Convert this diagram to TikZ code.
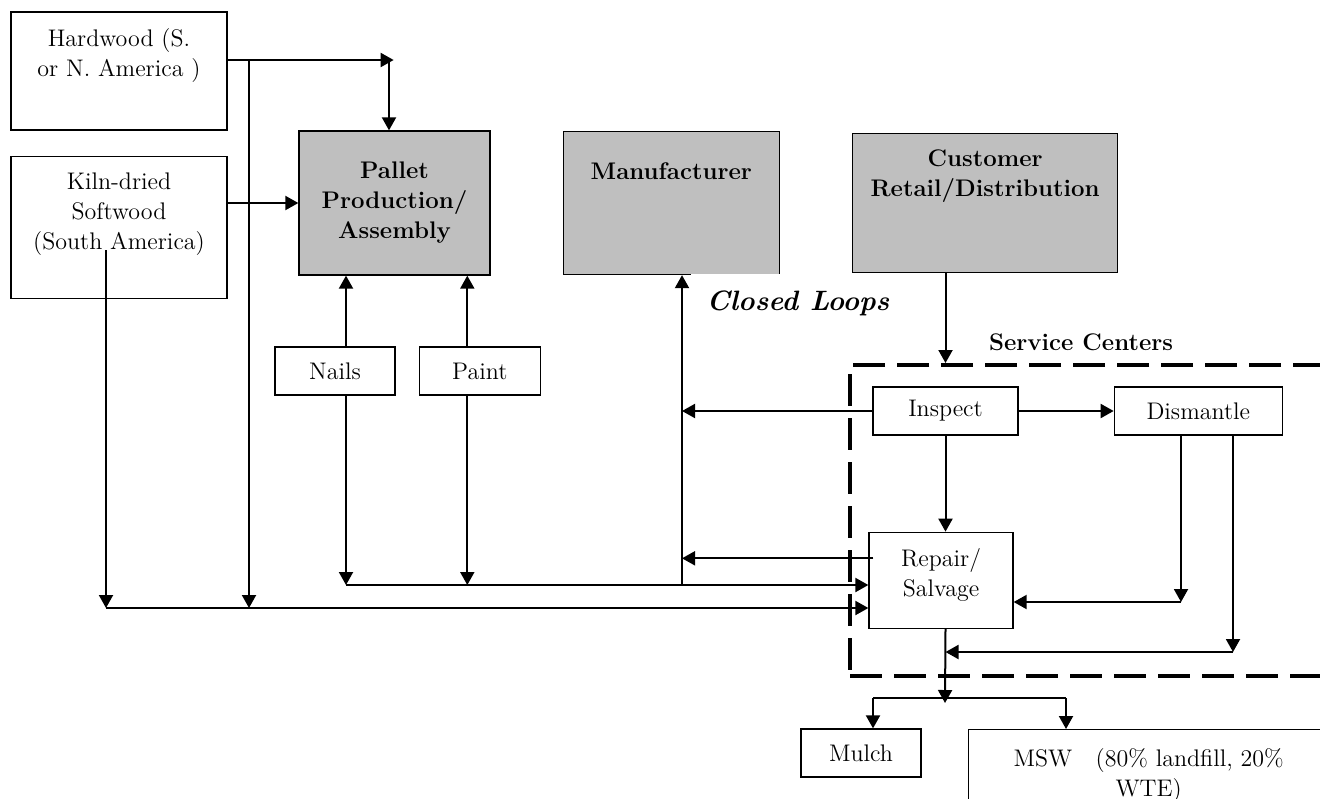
\documentclass[tikz,border=0pt]{standalone}
\usepackage{tikz}
\usetikzlibrary{positioning, arrows.meta}
\newcommand{\diagfont}{\fontsize{12}{15}\selectfont}

\begin{document}
\begin{tikzpicture}[x=0.5pt, y=-0.5pt, font=\diagfont, line width=1pt,
  >={Triangle[length=6.5pt, width=7pt]},
  box/.style = {draw, line width=0.65pt, inner sep=0pt},
  greybox/.style = {box, fill=gray!50},
  toptext/.style = {anchor=north, align=center, inner sep=3pt, yshift=#1},
  toptext/.default = -5pt,
  scframe/.style = {draw, line width=2pt, dash pattern=on 16pt off 6pt, inner sep=0pt, anchor=north west}]
\useasboundingbox (0,0) rectangle (1320,798);

\node[box, minimum width=108pt, minimum height=59pt, label={[toptext]north:Hardwood (S.\\or N. America )}] (hardwood) at (119,71) {};
\node[box, minimum width=108pt, minimum height=71pt, below=12.5pt of hardwood, label={[toptext]north:Kiln-dried\\Softwood\\(South America)}] (kiln) {};

\node[greybox, minimum width=95.5pt, minimum height=72pt, font=\diagfont\bfseries, align=center] (pallet) at (394.5,203) {Pallet\\Production/\\Assembly};
\node[greybox, minimum width=108pt, minimum height=71.5pt, right=36pt of pallet, label={[toptext=-12.5pt, font=\diagfont\bfseries]north:Manufacturer}] (manuf) {};
\node[greybox, minimum width=132.5pt, minimum height=69.5pt, right=36pt of manuf, label={[toptext, font=\diagfont\bfseries]north:Customer\\Retail/Distribution}] (customer) {};
\node[fill=white, inner sep=0pt, minimum width=107pt, minimum height=29pt, font=\fontsize{14}{17}\selectfont\bfseries\itshape] (loops) at (798,303) {Closed Loops};

\node[box, minimum width=60pt, minimum height=24pt] (nails) at (335,371) {Nails};
\node[box, minimum width=60.5pt, minimum height=24pt, right=11.5pt of nails] (paint) {Paint};

\node[scframe, minimum width=250pt, minimum height=155.5pt] (service) at (848,363) {};
\node[font=\diagfont\bfseries] (sclabel) at (1081,342) {Service Centers};
\node[box, minimum width=72.5pt, minimum height=24pt] (inspect) at (945.5,411) {Inspect};
\node[box, minimum width=84pt, minimum height=24pt, right=47.5pt of inspect] (dismantle) {Dismantle};
\node[box, minimum width=72pt, minimum height=48pt, below=48pt of inspect, xshift=-2.25pt, label={[toptext]north:Repair/\\Salvage}] (repair) {};

\node[box, minimum width=60pt, minimum height=24pt] (mulch) at (861,753) {Mulch};
\node[box, minimum width=180pt, minimum height=50pt, anchor=north west, label={[toptext=-6pt]north:{MSW\ \ \ (80\% landfill, 20\%\\WTE)}}] (msw) at (968,729) {};

\coordinate (hwjoin) at (389,60);
\coordinate (hwsplit) at (249,60);
\coordinate (kilnout) at (106,250);
\coordinate (lowbus) at (106,608);
\coordinate (midbus) at (346,585);
\coordinate (loopcol) at (682,585);
\coordinate (rsout) at ([shift={(5,-22)}]repair.west);
\coordinate (dmA) at (1181,602);
\coordinate (dmB) at (1233,652);
\coordinate (waste) at (945,698);
\coordinate (mulchcol) at (873,698);
\coordinate (mswcol) at (1066,698);

\draw[->] (hardwood.east |- hwjoin) -- ++(166,0);
\draw[->] (hwjoin) -- (hwjoin |- pallet.north);
\draw[->] (hwsplit) -- (hwsplit |- lowbus);
\draw[->] (kiln.east |- pallet.west) -- (pallet.west);
\draw[->] (kilnout) -- (lowbus);
\draw[->] (lowbus) -- (lowbus -| repair.west);
\draw[->] ([xshift=5.5pt]nails.north) -- ([xshift=5.5pt]nails.north |- pallet.south);
\draw[->] ([xshift=5.5pt]nails.south) -- ([xshift=5.5pt]nails.south |- midbus);
\draw[->] ([xshift=-6.25pt]paint.north) -- ([xshift=-6.25pt]paint.north |- pallet.south);
\draw[->] ([xshift=-6.25pt]paint.south) -- ([xshift=-6.25pt]paint.south |- midbus);
\draw[->] (midbus) -- (midbus -| repair.west);
\draw[->] (loopcol) -- (loopcol |- manuf.south);
\draw[->] (inspect.west) -- (inspect.west -| loopcol);
\draw[->] (rsout) -- (rsout -| loopcol);
\draw[->] (customer.south -| inspect.north) -- (inspect.north |- service.north);
\draw[->] (inspect.east) -- (dismantle.west);
\draw[->] (inspect.south) -- (inspect.south |- repair.north);
\draw[->] (dmA |- dismantle.south) -- (dmA);
\draw[->] (dmA) -- (dmA -| repair.east);
\draw[->] (dmB |- dismantle.south) -- (dmB);
\draw[->] (dmB) -- (dmB -| inspect.south);
\draw[->] (repair.south -| inspect.south) -- ([yshift=-2.5pt]waste);
\draw[line width=0.7pt] (mulchcol) -- (mswcol);
\draw[->] (mulchcol) -- (mulchcol |- mulch.north);
\draw[->] (mswcol) -- (mswcol |- msw.north);
\end{tikzpicture}
\end{document}
